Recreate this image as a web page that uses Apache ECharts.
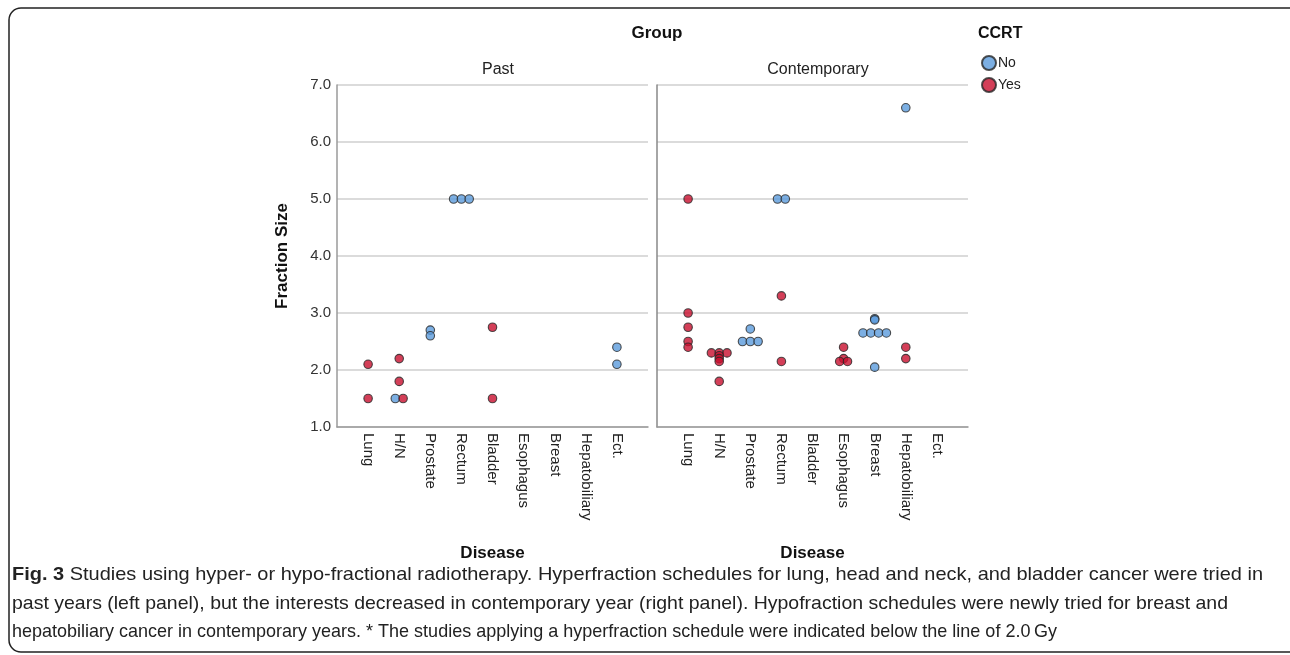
<!DOCTYPE html>
<html>
<head>
<meta charset="utf-8">
<script src="https://cdn.jsdelivr.net/npm/echarts@6/dist/echarts.min.js"></script>
<style>
html,body{margin:0;padding:0;background:#fff;}
#chart{width:1290px;height:655px;}
</style>
</head>
<body>
<div id="chart"></div>
<script>
// ---------- data ----------
const categories = ['Lung', 'H/N', 'Prostate', 'Rectum', 'Bladder', 'Esophagus', 'Breast', 'Hepatobiliary', 'Ect.'];
const yTicks = [1, 2, 3, 4, 5, 6, 7];
const panels = ['Past', 'Contemporary'];

const pastNo = [['H/N', 1.5], ['Prostate', 2.7], ['Prostate', 2.6], ['Rectum', 5.0], ['Rectum', 5.0], ['Rectum', 5.0], ['Ect.', 2.4], ['Ect.', 2.1]];
const pastYes = [['Lung', 2.1], ['Lung', 1.5], ['H/N', 2.2], ['H/N', 1.8], ['H/N', 1.5], ['Bladder', 2.75], ['Bladder', 1.5]];
const contNo = [['Prostate', 2.72], ['Prostate', 2.5], ['Prostate', 2.5], ['Prostate', 2.5], ['Rectum', 5.0], ['Rectum', 5.0],
  ['Breast', 2.9], ['Breast', 2.88], ['Breast', 2.65], ['Breast', 2.65], ['Breast', 2.65], ['Breast', 2.65], ['Breast', 2.05],
  ['Hepatobiliary', 6.6]];
const contYes = [['Lung', 5.0], ['Lung', 3.0], ['Lung', 2.75], ['Lung', 2.5], ['Lung', 2.4],
  ['H/N', 2.3], ['H/N', 2.3], ['H/N', 2.3], ['H/N', 2.25], ['H/N', 2.2], ['H/N', 2.15], ['H/N', 1.8],
  ['Rectum', 3.3], ['Rectum', 2.15],
  ['Esophagus', 2.4], ['Esophagus', 2.2], ['Esophagus', 2.15], ['Esophagus', 2.15],
  ['Hepatobiliary', 2.4], ['Hepatobiliary', 2.2]];

const captionLines = [
  'Studies using hyper- or hypo-fractional radiotherapy. Hyperfraction schedules for lung, head and neck, and bladder cancer were tried in',
  'past years (left panel), but the interests decreased in contemporary year (right panel). Hypofraction schedules were newly tried for breast and',
  'hepatobiliary cancer in contemporary years. * The studies applying a hyperfraction schedule were indicated below the line of 2.0\u2009Gy'
];

// ---------- styling / layout ----------
const FONT = '"Liberation Sans", Arial, sans-serif';
const BLUE = '#5b9bdc';
const RED = '#c80f2e';
const DOT = 8.5;
const STEP = 7.8;
const axisCats = [''].concat(categories, ['']);

// dodge identical values horizontally (within a panel)
function dodge(no, yes) {
  const all = no.map(p => ({p, s: 0})).concat(yes.map(p => ({p, s: 1})));
  const groups = {};
  all.forEach(o => { const k = o.p[0] + '|' + o.p[1]; (groups[k] = groups[k] || []).push(o); });
  const out = [[], []];
  Object.values(groups).forEach(g => {
    g.forEach((o, i) => {
      out[o.s].push({value: [o.p[0], o.p[1]], symbolOffset: [(i - (g.length - 1) / 2) * STEP, 0]});
    });
  });
  return out;
}
const past = dodge(pastNo, pastYes);
const cont = dodge(contNo, contYes);

const grids = [
  {left: 337, top: 85, width: 311, height: 342},
  {left: 657, top: 85, width: 311, height: 342}
];

function xAxis(i) {
  return {
    type: 'category', gridIndex: i, data: axisCats, boundaryGap: false,
    name: 'Disease', nameLocation: 'middle', nameGap: 118,
    nameTextStyle: {fontFamily: FONT, fontSize: 17, fontWeight: 'bold', color: '#111'},
    axisLine: {lineStyle: {color: '#9a9a9a', width: 1.5}},
    axisTick: {show: false},
    splitLine: {show: false},
    axisLabel: {interval: 0, rotate: -90, margin: 6, fontFamily: FONT, fontSize: 15, color: '#222'}
  };
}
function yAxis(i) {
  return {
    type: 'value', gridIndex: i, min: yTicks[0], max: yTicks[yTicks.length - 1], interval: 1,
    name: i === 0 ? 'Fraction Size' : '', nameLocation: 'middle', nameGap: 46,
    nameTextStyle: {fontFamily: FONT, fontSize: 17, fontWeight: 'bold', color: '#111'},
    axisLine: {show: true, lineStyle: {color: i === 0 ? '#9a9a9a' : '#888', width: 1.5}},
    axisTick: {show: false},
    splitLine: {show: true, lineStyle: {color: '#cfcfcf', width: 1.5}},
    axisLabel: {show: i === 0, margin: 6, fontFamily: FONT, fontSize: 15, color: '#333',
      formatter: v => v.toFixed(1)}
  };
}
function scatter(name, color, data, i) {
  return {
    type: 'scatter', name, xAxisIndex: i, yAxisIndex: i, data,
    symbol: 'circle', symbolSize: DOT,
    itemStyle: {color, borderColor: '#262626', borderWidth: 1.1},
    emphasis: {disabled: true}
  };
}

const chart = echarts.init(document.getElementById('chart'), null, {renderer: 'canvas'});

// caption: each line squeezed horizontally to the width it has in the reference
const CAP_FONT_SIZE = 19;
const CAP_FONT = '"Liberation Sans Narrow", "Liberation Sans", Arial, sans-serif';
const CAP_RIGHT = [1263, 1228, 1057];
const ctx = document.createElement('canvas').getContext('2d');
function lineWidth(i) {
  let w = 0;
  if (i === 0) {
    ctx.font = 'bold ' + CAP_FONT_SIZE + 'px ' + CAP_FONT;
    w += ctx.measureText('Fig. 3').width;
    ctx.font = CAP_FONT_SIZE + 'px ' + CAP_FONT;
    w += ctx.measureText(' ' + captionLines[0]).width;
  } else {
    ctx.font = CAP_FONT_SIZE + 'px ' + CAP_FONT;
    w += ctx.measureText(captionLines[i]).width;
  }
  return w;
}

const captionGraphics = captionLines.map((t, i) => ({
  type: 'text', x: 12, y: 575 + i * 28.5, scaleX: (CAP_RIGHT[i] - 12) / lineWidth(i), originX: 0,
  style: {
    text: i === 0 ? '{b|Fig. 3} ' + t : t,
    font: CAP_FONT_SIZE + 'px ' + CAP_FONT, fill: '#222', verticalAlign: 'middle',
    rich: {b: {fontFamily: CAP_FONT, fontSize: CAP_FONT_SIZE, fontWeight: 'bold', color: '#222'}}
  }
}));

chart.setOption({
  animation: false,
  backgroundColor: '#fff',
  title: [
    {text: 'Group', left: 652, top: 20, textAlign: 'center', textStyle: {fontFamily: FONT, fontSize: 17, fontWeight: 'bold', color: '#111'}},
    {text: panels[0], left: 493, top: 57, textAlign: 'center', textStyle: {fontFamily: FONT, fontSize: 16, fontWeight: 'normal', color: '#222'}},
    {text: panels[1], left: 813, top: 57, textAlign: 'center', textStyle: {fontFamily: FONT, fontSize: 16, fontWeight: 'normal', color: '#222'}},
    {text: 'CCRT', left: 973, top: 21, textStyle: {fontFamily: FONT, fontSize: 16, fontWeight: 'bold', color: '#111'}}
  ],
  legend: {
    orient: 'vertical', left: 976, top: 50, itemWidth: 14, itemHeight: 14, itemGap: 6,
    icon: 'circle', data: ['No', 'Yes'],
    textStyle: {fontFamily: FONT, fontSize: 14, color: '#222', padding: [0, 0, 0, -3]}
  },
  grid: grids,
  xAxis: [xAxis(0), xAxis(1)],
  yAxis: [yAxis(0), yAxis(1)],
  series: [
    scatter('No', BLUE, past[0], 0),
    scatter('Yes', RED, past[1], 0),
    scatter('No', BLUE, cont[0], 1),
    scatter('Yes', RED, cont[1], 1)
  ],
  graphic: [
    {type: 'rect', shape: {x: 9, y: 8, width: 1320, height: 644, r: 12}, style: {fill: 'none', stroke: '#222', lineWidth: 1.5}, silent: true}
  ].concat(captionGraphics)
});
</script>
</body>
</html>
